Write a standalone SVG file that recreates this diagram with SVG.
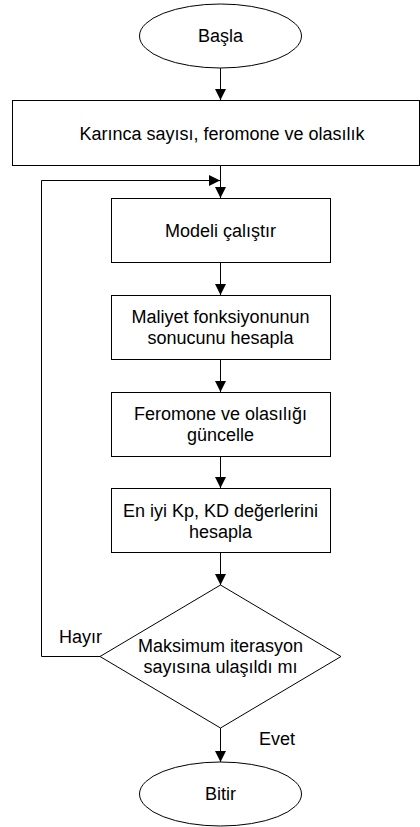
<svg xmlns="http://www.w3.org/2000/svg" width="420" height="827" viewBox="0 0 420 827">
<style>
.shape{fill:#fff;stroke:#000;stroke-width:1}
.line{fill:none;stroke:#000;stroke-width:1}
text{font-family:"Liberation Sans",Arial,sans-serif;font-size:18px;fill:#000}
.c{text-anchor:middle}
</style>
<defs>
<marker id="arr" markerUnits="userSpaceOnUse" markerWidth="11" markerHeight="11" refX="11" refY="5.5" orient="auto">
<path d="M0,0 L11,5.5 L0,11 z" fill="#000"/>
</marker>
</defs>
<rect width="420" height="827" fill="#fff"/>
<g id="connectors">
<line class="line" x1="220.5" y1="68" x2="220.5" y2="100" marker-end="url(#arr)"/>
<line class="line" x1="220.5" y1="165.5" x2="220.5" y2="198" marker-end="url(#arr)"/>
<polyline class="line" points="100,656.5 41.5,656.5 41.5,180.5 220,180.5" marker-end="url(#arr)"/>
<line class="line" x1="220.5" y1="262.5" x2="220.5" y2="295" marker-end="url(#arr)"/>
<line class="line" x1="220.5" y1="359.5" x2="220.5" y2="392" marker-end="url(#arr)"/>
<line class="line" x1="220.5" y1="456.5" x2="220.5" y2="488" marker-end="url(#arr)"/>
<line class="line" x1="220.5" y1="552.5" x2="220.5" y2="585" marker-end="url(#arr)"/>
<line class="line" x1="220.5" y1="728" x2="220.5" y2="762" marker-end="url(#arr)"/>
<text x="59" y="643">Hayır</text>
<text x="259" y="745">Evet</text>
</g>
<g id="start">
<ellipse class="shape" cx="220.5" cy="36" rx="81" ry="32"/>
<text class="c" x="220.5" y="42">Başla</text>
</g>
<g id="init">
<rect class="shape" x="12.5" y="100.5" width="407" height="65"/>
<text class="c" x="222" y="139.5">Karınca sayısı, feromone ve olasılık</text>
</g>
<g id="run">
<rect class="shape" x="111.5" y="198.5" width="219" height="64"/>
<text class="c" x="220.5" y="236.5">Modeli çalıştır</text>
</g>
<g id="cost">
<rect class="shape" x="111.5" y="295.5" width="219" height="64"/>
<text class="c" x="220.5" y="323">Maliyet fonksiyonunun</text>
<text class="c" x="220.5" y="344">sonucunu hesapla</text>
</g>
<g id="update">
<rect class="shape" x="111.5" y="392.5" width="219" height="64"/>
<text class="c" x="220.5" y="420">Feromone ve olasılığı</text>
<text class="c" x="220.5" y="441">güncelle</text>
</g>
<g id="best">
<rect class="shape" x="111.5" y="488.5" width="219" height="64"/>
<text class="c" x="220.5" y="516.5">En iyi Kp, KD değerlerini</text>
<text class="c" x="220.5" y="537.5">hesapla</text>
</g>
<g id="decision">
<polygon class="shape" points="220.5,585 341,656.5 220.5,728 100,656.5"/>
<text class="c" x="220.5" y="652">Maksimum iterasyon</text>
<text class="c" x="220.5" y="673">sayısına ulaşıldı mı</text>
</g>
<g id="end">
<ellipse class="shape" cx="220.5" cy="794" rx="81" ry="32"/>
<text class="c" x="220.5" y="799.5">Bitir</text>
</g>
</svg>
